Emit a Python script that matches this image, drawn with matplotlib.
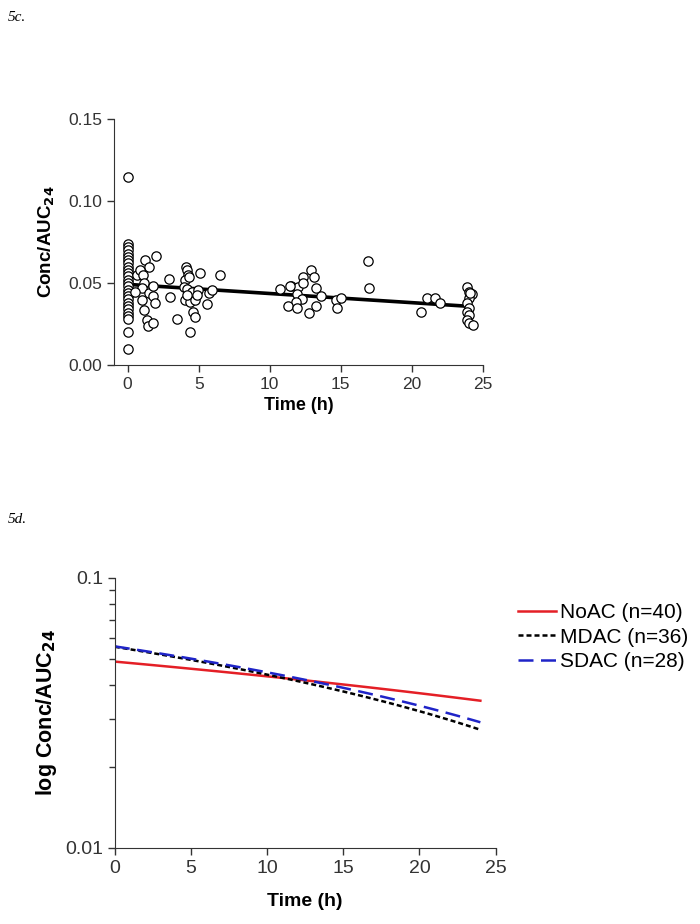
import numpy as np
from matplotlib import pyplot as plt
from matplotlib.ticker import LogLocator, NullFormatter, FixedLocator

plt.rcParams['font.family'] = ['Liberation Sans', 'DejaVu Sans']

# 5c scatter data: time (h), Conc/AUC24
t0_vals = [0.115, 0.074, 0.072, 0.070, 0.068, 0.066, 0.064, 0.062, 0.060, 0.058, 0.056,
           0.054, 0.052, 0.050, 0.048, 0.046, 0.044, 0.042, 0.040, 0.038, 0.036, 0.034,
           0.032, 0.030, 0.028, 0.020, 0.010]
early_time = [0.65, 1.23, 1.54, 2.0, 0.88, 1.07, 1.12, 1.0, 0.53, 1.0, 1.12, 1.35, 1.4, 1.82,
              1.47, 1.82, 1.94, 1.77, 2.94, 2.99, 3.45,
              4.11, 4.16, 4.27, 4.04, 4.34, 3.97, 4.16, 4.5, 4.04, 4.39, 4.74, 4.16, 4.62,
              4.74, 4.39, 4.97, 4.9, 5.09, 5.6, 5.75, 5.91, 6.49]
early_vals = [0.0549, 0.064, 0.0596, 0.0667, 0.058, 0.0549, 0.050, 0.0467, 0.0447, 0.0396,
              0.0335, 0.0274, 0.0238, 0.0254, 0.0437, 0.042, 0.038, 0.048, 0.0522, 0.0417,
              0.0282,
              0.0596, 0.058, 0.0549, 0.0518, 0.0535, 0.0478, 0.0461, 0.0447, 0.0396, 0.0386,
              0.0396, 0.0427, 0.0325, 0.029, 0.0199, 0.0457, 0.0427, 0.0563, 0.0372, 0.0437,
              0.0457, 0.0549]
mid_time = [10.75, 11.52, 11.99, 12.34, 12.92, 13.09, 12.34, 13.27, 13.58, 11.92, 12.29,
            11.87, 11.29, 11.92, 12.76, 13.23, 14.68, 15.03, 14.72, 16.9, 16.96, 11.45,
            20.64, 21.03, 21.62, 21.97]
mid_vals = [0.0461, 0.0482, 0.0478, 0.0535, 0.058, 0.0535, 0.0498, 0.0467, 0.042, 0.0433,
            0.040, 0.0386, 0.036, 0.035, 0.0319, 0.036, 0.0396, 0.0407, 0.0346, 0.0636,
            0.0467, 0.0484, 0.0321, 0.041, 0.041, 0.038]
t24_time = [23.9, 24.0, 24.2, 24.0, 23.9, 24.0, 23.9, 24.0, 23.9, 24.0, 24.3, 24.1]
t24_vals = [0.0474, 0.0447, 0.0433, 0.0407, 0.0376, 0.0346, 0.0325, 0.0305, 0.0274, 0.0258,
            0.0244, 0.0437]

# 5c regression line
fit_time = [0, 24]
fit_vals = [0.0492, 0.0358]

# 5d regression lines (linear fits, shown on log axis): intercept and slope per group
groups = ['NoAC (n=40)', 'MDAC (n=36)', 'SDAC (n=28)']
intercepts = [0.0490, 0.0556, 0.0558]
slopes = [-0.000579, -0.001175, -0.001108]
t_end = 24

time = np.concatenate([np.zeros(len(t0_vals)), early_time, mid_time, t24_time])
conc = np.concatenate([t0_vals, early_vals, mid_vals, t24_vals])

fig = plt.figure(figsize=(7.0, 9.24), dpi=100)
axis_col = '#333333'

# ---- 5c
ax1 = fig.add_axes([0.163, 0.605, 0.527, 0.266])
ax1.scatter(time, conc, s=45, facecolor='white', edgecolor='black', linewidth=0.9, zorder=3)
ax1.plot(fit_time, fit_vals, color='black', lw=2.6, zorder=2)
ax1.set_xlim(-0.95, 25)
ax1.set_ylim(0, 0.15)
ax1.set_xticks([0, 5, 10, 15, 20, 25])
ax1.set_yticks([0.0, 0.05, 0.10, 0.15])
ax1.set_yticklabels(['0.00', '0.05', '0.10', '0.15'])
ax1.tick_params(labelsize=12.5, colors=axis_col, length=5, width=1, direction='out')
for s in ['top', 'right']:
    ax1.spines[s].set_visible(False)
for s in ['left', 'bottom']:
    ax1.spines[s].set_color(axis_col)
ax1.set_xlabel('Time (h)', fontsize=13, fontweight='bold', labelpad=4)
ax1.set_ylabel(r'Conc/AUC$_\mathbf{24}$', fontsize=13.5, fontweight='bold', labelpad=8)

# ---- 5d
ax2 = fig.add_axes([0.164, 0.0823, 0.544, 0.2922])
tt = np.linspace(0, t_end, 100)
styles = [dict(color='#e41f26', lw=1.8),
          dict(color='black', lw=1.8, dashes=(2.0, 1.2)),
          dict(color='#1f24c8', lw=1.8, dashes=(6, 3))]
for name, b0, b1, st in zip(groups, intercepts, slopes, styles):
    ax2.plot(tt, b0 + b1 * tt, label=name, **st)
ax2.set_yscale('log')
ax2.set_xlim(0, 25)
ax2.set_ylim(0.01, 0.1)
ax2.set_xticks([0, 5, 10, 15, 20, 25])
ax2.yaxis.set_major_locator(FixedLocator([0.01, 0.1]))
ax2.yaxis.set_minor_locator(LogLocator(base=10, subs=np.arange(2, 10)))
ax2.yaxis.set_minor_formatter(NullFormatter())
ax2.set_yticklabels(['0.01', '0.1'])
ax2.tick_params(labelsize=14, colors=axis_col, length=5, width=1, direction='out')
ax2.tick_params(which='minor', length=4, width=1, colors=axis_col, direction='out')
for s in ['top', 'right']:
    ax2.spines[s].set_visible(False)
for s in ['left', 'bottom']:
    ax2.spines[s].set_color(axis_col)
ax2.set_xlabel('Time (h)', fontsize=14, fontweight='bold', labelpad=12)
ax2.set_ylabel(r'log Conc/AUC$_\mathbf{24}$', fontsize=15.5, fontweight='bold', labelpad=4)
ax2.legend(loc='upper left', bbox_to_anchor=(1.01, 0.975), frameon=False, fontsize=15,
           handlelength=1.8, handletextpad=0.2, labelspacing=0.25)

fig.text(0.011, 0.977, '5c.', family='Liberation Serif', style='italic', fontsize=11)
fig.text(0.011, 0.434, '5d.', family='Liberation Serif', style='italic', fontsize=11)

fig.savefig('out.png', dpi=100)
